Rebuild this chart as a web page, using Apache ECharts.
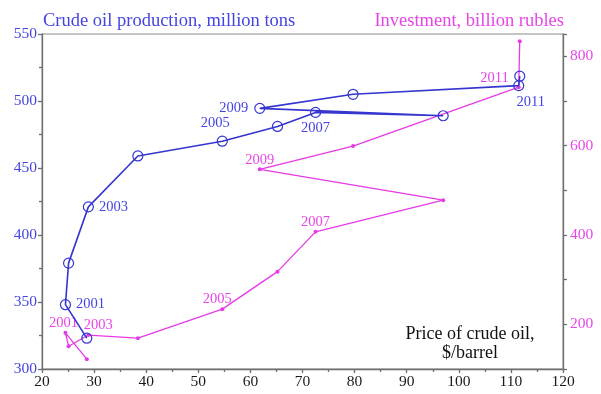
<!DOCTYPE html>
<html>
<head>
<meta charset="utf-8">
<script src="https://cdn.jsdelivr.net/npm/echarts@6/dist/echarts.min.js"></script>
<style>
  html, body { margin: 0; padding: 0; background: #fff; }
  #chart { width: 601px; height: 394px; }
</style>
</head>
<body>
<div id="chart"></div>
<script>
// Yearly figures, 2000-2012
const years = [2000, 2001, 2002, 2003, 2004, 2005, 2006, 2007, 2008, 2009, 2010, 2011, 2012];
// Average price of crude oil, $/barrel
const price = [28.6, 24.5, 25.1, 28.9, 38.4, 54.6, 65.2, 72.5, 97.0, 61.8, 79.7, 111.5, 111.7];
// Crude oil production, million tons
const production = [323, 348, 379, 421, 459, 470, 481, 491.5, 489, 494.5, 505, 511.5, 518.5];
// Investment, billion rubles
const investment = [122, 181, 151, 176, 169, 234, 318, 407, 478, 547, 599, 731, 834];
// Years that carry a text label on each curve
const productionLabelYears = [2001, 2003, 2005, 2007, 2009, 2011];
const investmentLabelYears = [2001, 2003, 2005, 2007, 2009, 2011];

const SERIF = '"Liberation Serif", "DejaVu Serif", serif';
const BLUE = '#3535d0';
const BLUE_TEXT = '#4444e4';
const MAGENTA = '#e63ae6';
const MAGENTA_TEXT = '#e845e8';

// Placement of the year labels around their points
const prodLabelPos = {
  2001: { position: 'right', distance: 5 },
  2003: { position: 'right', distance: 5 },
  2005: { position: 'top', distance: 5, offset: [-7, 0] },
  2007: { position: 'bottom', distance: 3 },
  2009: { position: 'left', distance: 6 },
  2011: { position: 'bottom', distance: 3, offset: [12, 0] }
};
const invLabelPos = {
  2001: { position: 'top', distance: 0, offset: [-2, 0] },
  2003: { position: 'top', distance: 0, offset: [10, 0] },
  2005: { position: 'top', distance: 0, offset: [-5, 0] },
  2007: { position: 'top', distance: 0 },
  2009: { position: 'top', distance: 0 },
  2011: { position: 'left', distance: 8, offset: [0, -9] }
};

function buildData(values, labelYears, placement, color) {
  return years.map((yr, i) => {
    const item = { value: [price[i], values[i]] };
    if (labelYears.includes(yr)) {
      const p = placement[yr] || { position: 'top' };
      item.label = Object.assign({
        show: true,
        formatter: String(yr),
        color: color,
        fontFamily: SERIF,
        fontSize: 14.5
      }, p);
    }
    return item;
  });
}

const chart = echarts.init(document.getElementById('chart'), null, { renderer: 'canvas' });

const axisLineStyle = { color: '#6e6e6e', width: 1.3 };

chart.setOption({
  backgroundColor: '#ffffff',
  animation: false,
  grid: {
    left: 42, right: 38, top: 34, bottom: 25,
    show: true, borderColor: '#8a8a8a', borderWidth: 1
  },
  xAxis: {
    type: 'value',
    min: 20, max: 120, interval: 10,
    axisLine: { show: true, onZero: false, lineStyle: axisLineStyle },
    axisTick: { show: true, inside: false, length: 4, lineStyle: axisLineStyle },
    minorTick: { show: true, splitNumber: 2, length: 3, lineStyle: axisLineStyle },
    splitLine: { show: false },
    axisLabel: { color: '#1a1a1a', fontFamily: SERIF, fontSize: 15.5, margin: 5 }
  },
  yAxis: [
    {
      type: 'value',
      position: 'left',
      min: 300, max: 550, interval: 50,
      axisLine: { show: true, onZero: false, lineStyle: axisLineStyle },
      axisTick: { show: true, inside: false, length: 4, lineStyle: axisLineStyle },
      minorTick: { show: true, splitNumber: 2, length: 3, lineStyle: axisLineStyle },
      splitLine: { show: false },
      axisLabel: { color: BLUE_TEXT, fontFamily: SERIF, fontSize: 15.5, margin: 5 }
    },
    {
      type: 'value',
      position: 'right',
      min: 100, max: 850, interval: 100,
      axisLine: { show: true, onZero: false, lineStyle: axisLineStyle },
      axisTick: { show: true, inside: false, length: 4, lineStyle: axisLineStyle },
      splitLine: { show: false },
      axisLabel: {
        color: MAGENTA_TEXT, fontFamily: SERIF, fontSize: 15.5, margin: 7,
        formatter: v => (v % 200 === 0 ? String(v) : '')
      }
    }
  ],
  graphic: [
    {
      type: 'text', x: 43, y: 12,
      style: { text: 'Crude oil production, million tons', fill: BLUE_TEXT, font: '18.5px ' + SERIF }
    },
    {
      type: 'text', x: 564, y: 12,
      style: { text: 'Investment, billion rubles', fill: MAGENTA_TEXT, font: '18.5px ' + SERIF, align: 'right' }
    },
    {
      type: 'text', x: 470, y: 325,
      style: {
        text: 'Price of crude oil,\n$/barrel', fill: '#111', font: '18px ' + SERIF,
        align: 'center', verticalAlign: 'top', lineHeight: 19
      }
    }
  ],
  series: [
    {
      name: 'Investment',
      type: 'line',
      yAxisIndex: 1,
      data: buildData(investment, investmentLabelYears, invLabelPos, MAGENTA_TEXT),
      lineStyle: { color: MAGENTA, width: 1.3 },
      itemStyle: { color: MAGENTA },
      symbol: 'circle',
      symbolSize: 4,
      z: 2
    },
    {
      name: 'Production',
      type: 'line',
      yAxisIndex: 0,
      data: buildData(production, productionLabelYears, prodLabelPos, BLUE_TEXT),
      lineStyle: { color: BLUE, width: 1.6 },
      itemStyle: { color: 'rgba(255,255,255,0)', borderColor: BLUE, borderWidth: 1.2 },
      symbol: 'circle',
      symbolSize: 10,
      showAllSymbol: true,
      z: 3
    }
  ]
});
</script>
</body>
</html>
